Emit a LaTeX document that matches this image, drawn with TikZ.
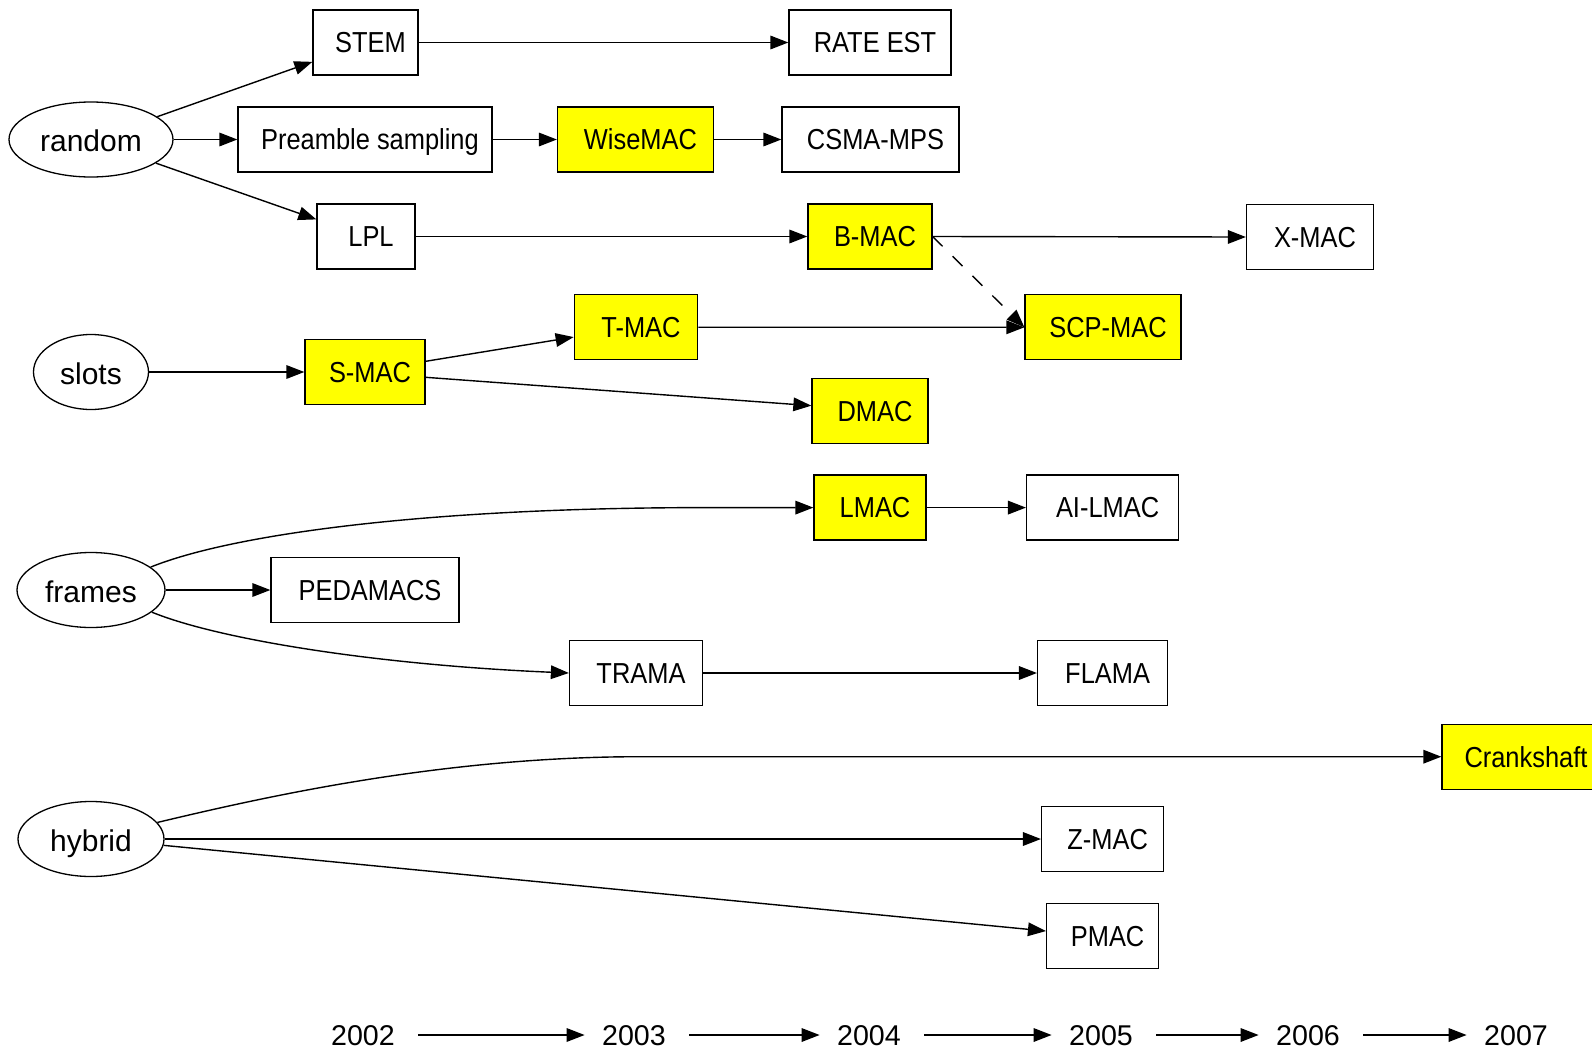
\documentclass[tikz,border=0pt]{standalone}
\usepackage{fontspec}
\setmainfont{Liberation Sans}
\newfontfamily\boxfont{Liberation Sans}[FakeStretch=0.88]
\usetikzlibrary{shapes.geometric,arrows.meta}
\definecolor{hly}{RGB}{255,255,0}
\begin{document}
\begin{tikzpicture}[x=0.5pt,y=-0.5pt,
  box/.style={draw, line width=0.65pt, rectangle, minimum height=32.5pt, inner sep=0pt,
    font=\boxfont\fontsize{14.45pt}{17pt}\selectfont, text height=10.35pt, text depth=0pt,
    execute at begin node={\hspace*{5pt}}},
  hl/.style={box, fill=hly},
  cat/.style={draw, ellipse, line width=0.65pt, inner sep=0pt, minimum height=37.5pt,
    font=\fontsize{15pt}{18pt}\selectfont, text height=13.7pt, text depth=1.5pt},
  yr/.style={inner sep=0pt, minimum width=52pt, font=\fontsize{14.3pt}{17pt}\selectfont,
    text height=10pt, text depth=0pt, execute at end node={\hspace*{3pt}}},
  edge/.style={line width=0.7pt, -{Triangle[length=9pt,width=6.8pt]}},
  dash edge/.style={edge, dash pattern=on 7pt off 7pt}]
\useasboundingbox (0,0) rectangle (1592,1050);
\clip (0,0) rectangle (1592,1050);

% category ellipses
\node[cat, minimum width=82pt]   (random) at (91,139.5) {random};
\node[cat, minimum width=57.5pt] (slots)  at (91,372)   {slots};
\node[cat, minimum width=74pt]   (frames) at (91,590)   {frames};
\node[cat, minimum width=73pt]   (hybrid) at (91,839)   {hybrid};

% protocol boxes
\node[box, minimum width=52.5pt] (stem)   at (365.5,42.5) {STEM};
\node[box, minimum width=81pt]   (rate)   at (870,42.5)   {RATE EST};
\node[box, minimum width=127pt]  (pre)    at (365,139.5)  {Preamble sampling};
\node[hl,  minimum width=78pt]   (wise)   at (635.5,139.5){WiseMAC};
\node[box, minimum width=88.5pt] (csma)   at (870.5,139.5){CSMA-MPS};
\node[box, minimum width=49pt]   (lpl)    at (366,236.5)  {LPL};
\node[hl,  minimum width=62pt]   (bmac)   at (870,236.5)  {B-MAC};
\node[box, minimum width=63.5pt] (xmac)   at (1310,237)   {X-MAC};
\node[hl,  minimum width=61.7pt] (tmac)   at (636,327.2)  {T-MAC};
\node[hl,  minimum width=78pt]   (scp)    at (1103,327.3) {SCP-MAC};
\node[hl,  minimum width=60pt]   (smac)   at (365,372)    {S-MAC};
\node[hl,  minimum width=58pt]   (dmac)   at (870,410.8)  {DMAC};
\node[hl,  minimum width=56pt]   (lmac)   at (870,507.6)  {LMAC};
\node[box, minimum width=76pt]   (ailmac) at (1102.6,507.6){AI-LMAC};
\node[box, minimum width=94pt]   (peda)   at (365,590)    {PEDAMACS};
\node[box, minimum width=66.5pt] (trama)  at (636,673)    {TRAMA};
\node[box, minimum width=65pt]   (flama)  at (1102.6,673) {FLAMA};
\node[hl,  minimum width=79pt]   (crank)  at (1521,756.7) {Crankshaft};
\node[box, minimum width=61pt]   (zmac)   at (1102.6,839) {Z-MAC};
\node[box, minimum width=56pt]   (pmac)   at (1102.6,936) {PMAC};

% years
\node[yr] (y2002) at (366,1035)  {2002};
\node[yr] (y2003) at (637,1035)  {2003};
\node[yr] (y2004) at (872,1035)  {2004};
\node[yr] (y2005) at (1104,1035) {2005};
\node[yr] (y2006) at (1311,1035) {2006};
\node[yr] (y2007) at (1519,1035) {2007};

% random
\draw[edge] (random.19) -- (stem.200);
\draw[edge] (random.east) -- (pre.west);
\draw[edge] (random.-20) -- (lpl.161);
\draw[edge] (stem.east) -- (rate.west);
\draw[edge] (pre.east) -- (wise.west);
\draw[edge] (wise.east) -- (csma.west);
\draw[edge] (lpl.east) -- (bmac.west);
\draw[edge] (bmac.east) -- (xmac.west);
\draw[dash edge] (bmac.east) -- (scp.west);

% slots
\draw[edge] (slots.east) -- (smac.west);
\draw[edge] (smac.10) -- (tmac.189);
\draw[edge] (smac.-5) -- (dmac.175);
\draw[edge] (tmac.east) -- (scp.west);

% frames
\draw[edge] (frames.21) .. controls (230,535) and (420,508) .. (700,507.6) -- (lmac.west);
\draw[edge] (lmac.east) -- (ailmac.west);
\draw[edge] (frames.east) -- (peda.west);
\draw[edge] (frames.-20) .. controls (220,640) and (380,665) .. (trama.west);
\draw[edge] (trama.east) -- (flama.west);

% hybrid
\draw[edge] (hybrid.14) .. controls (260,798) and (440,756.7) .. (640,756.7) -- (crank.west);
\draw[edge] (hybrid.east) -- (zmac.west);
\draw[edge] (hybrid.-5) -- (pmac.175);

% timeline
\draw[edge] (y2002.east) -- (y2003.west);
\draw[edge] (y2003.east) -- (y2004.west);
\draw[edge] (y2004.east) -- (y2005.west);
\draw[edge] (y2005.east) -- (y2006.west);
\draw[edge] (y2006.east) -- (y2007.west);
\end{tikzpicture}
\end{document}
